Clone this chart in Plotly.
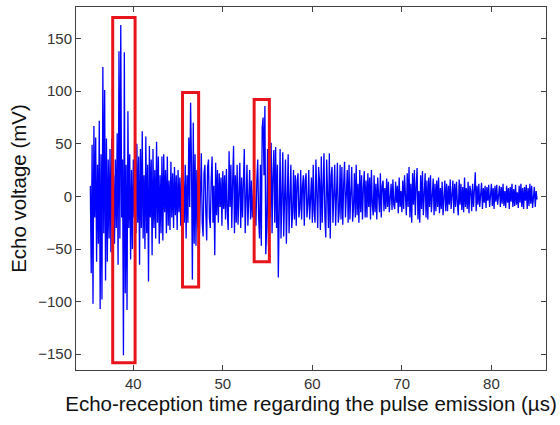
import numpy as np
import plotly.graph_objects as go

# sampling step (microseconds)
t_step = 0.1

# echo voltage (mV): (start time, values)
seg_a_start = 35.2
seg_a = [10, -73, 49, -102, 67, -20, 56, -62, 30, -45, 72, -107, 40, -98, 123, -35,
         101, -80, 55, -62, 35, -40, 45, -53, 55, -30]
seg_b_start = 37.8
seg_b = [20, -45, 35, -30, 60, -65, 138, -40, 163, -20, 35, -151, 137, -92, 30, -108,
         81, -30, 40, -60, 25, -50, 35, -20, 42]
seg_c_start = 40.3
seg_c = [-35, 50, -25, 38, -65, 45, -30, 62, -40, 20, -50, 57, -35, 30, -81, 48,
         -20, 35, -56, 45, -30, 25, -40, 52, -25, 38, -45, 20, -35, 38, -42, 40,
         -15, 25, -35, 38, -28, 15, -32, 33, -20, 22, -30, 28, -18, 20, -32, 25,
         -15, 18, -28, 22]
seg_d_start = 45.5
seg_d = [-30, 15, -25, 30, -40, 20, -25, 56, -10, 89, 30, -79, 70, -45, 40, -47,
         25, -30, 40]
seg_e_start = 47.4
seg_e = [-35, 20, 41, -25, -38, 22, 30, -15, -42, 28, 35, -20, -30, 15, 38, -25,
         10, -56, 32, -18, 25, -25, 22, -10, 18, -28, 24, -12, 20, -22, 26, -15,
         -32, 43, -10, 30, -30, 15, 48, -35, 20, -25, 30, -27, 12, 32, -30, 18,
         -20, 30, 45, -35, 15, 30, -28, 10, 25, -22, 15, -20, 12]
seg_f_start = 53.5
seg_f = [20, -10, -28, 15, 35, -20, -40, 30, -47, 66, 75, 20, 86, -55, -30, 45,
         -47, 30]
seg_g_start = 55.3
seg_g = [-20, 51, -35, 20, 44, -25, 47, -30, 30, -77, 10, 45, -40, 25, 42, -38,
         15, 35, -45, 20, 40, -35, 10, 30, -30, -15, 25, -22, 20, -28, 15, 22,
         -20, -12, 25, -22, 10, 20, -28, 15, 22, -20, -8, 25, -22, 12, 18, -25]
seg_h_start = 60.1
seg_h = [30, -15, -25, 35, -10, -30, 28, 15, -32, 38, -25, 10, 41, -20, -39, 35,
         -12, -30, 41, -40, 20, 28, -25, 15, 30, -28, 10, 32, -25, -15, 30, -22,
         28, -27, 12, 33, -20, 8, 25, -25, 30, -22, 10, 28, -24, -10, 22, -20,
         30, -18, 12, -25, 25, -15, 20, -22, 8, 24, -20, 15]
seg_i_start = 66.1
seg_i = [-20, 22, -10, 18, -22, 25, -8, -18, 20, -15, 12, -22, 18, 5, -15, 22,
         -20, 10, 15, -14, 8, -12, 17, -10, 14, -15, 5, 12, -13, 16, -8, -12,
         14, -6, 10, -16, 18, -10, 5, -15, 15, -12, 20, -8, -18, 22, -10, 28,
         -20, 12, -25, 22, -8, 25, -18, 10, 27, -22, 5, -25, 20, -12, 24, -18,
         8, 22, -20, 15, -22, 18, -10, 20, -15, 5, 17, -18, 12, -14, 15, -10,
         18, -16, 8, -12, 14, -18, 10, 15, -14, 12]
seg_j_start = 75.1
seg_j = [-14, 10, -8, 16, -12, 6, 15, -16, 12, -10, 14, -6, -18, 16, -8, 12,
         -13, 9, -15, 18, -10, 8, -12, 14, -16, 10, 5, -14, 12, -10, 8, 23,
         -14, 10, -8, 12, -10, 6, 13, -12, 8, -6, 10, -11, 9, -4, 11, -10,
         6, 12, -9, 8, -12, 10, -5, 11, -8, 4, 10, -10, 9, -7, 12, -9, 5, -11,
         10, -6, 8, -12, 9, -5, 12, -10, 7, -9, 11, -8, 4, -11, 10, -6, 12, -10,
         8, -12, 9, -4, 11, -12, 8, -9, 12, -7, 10, -11, 6, 9, -10, 5, -3]

segments = [(seg_a_start, seg_a), (seg_b_start, seg_b), (seg_c_start, seg_c),
            (seg_d_start, seg_d), (seg_e_start, seg_e), (seg_f_start, seg_f),
            (seg_g_start, seg_g), (seg_h_start, seg_h), (seg_i_start, seg_i),
            (seg_j_start, seg_j)]
time_us = []
voltage = []
for start, vals in segments:
    time_us.extend(start + t_step * np.arange(len(vals)))
    voltage.extend(vals)

# highlighted echoes (red boxes): x0, x1, y0, y1
box_x0 = [37.7, 45.5, 53.5]
box_x1 = [40.2, 47.3, 55.2]
box_y0 = [-158, -86, -62]
box_y1 = [170, 98.7, 92]

x_ticks = [40, 50, 60, 70, 80]
y_ticks = [-150, -100, -50, 0, 50, 100, 150]

fig = go.Figure()
fig.add_trace(go.Scatter(x=time_us, y=voltage, mode="lines",
                         line=dict(color="#0000FF", width=1.3), showlegend=False))

for x0, x1, y0, y1 in zip(box_x0, box_x1, box_y0, box_y1):
    fig.add_shape(type="rect", x0=x0, x1=x1, y0=y0, y1=y1, xref="x", yref="y",
                  line=dict(color="#E8141C", width=3), fillcolor="rgba(0,0,0,0)")

axis_common = dict(showgrid=False, zeroline=False, showline=True, linecolor="#404040",
                   linewidth=1, mirror="ticks", ticks="inside", ticklen=5,
                   tickcolor="#404040",
                   tickfont=dict(family="Liberation Sans, Arial", size=15, color="#333333"))

title_font = dict(family="Liberation Sans, Arial", size=20.5, color="#111111")

fig.update_xaxes(range=[33.6, 86.1], tickvals=x_ticks, **axis_common,
                 title=dict(text="Echo-reception time regarding the pulse emission (\u00b5s)",
                            font=title_font, standoff=4))
fig.update_yaxes(range=[-165, 180], tickvals=y_ticks, **axis_common,
                 title=dict(text="Echo voltage (mV)", font=title_font, standoff=6))

fig.update_layout(width=560, height=425, margin=dict(l=76, r=14, t=7, b=55),
                  paper_bgcolor="white", plot_bgcolor="white")

fig.write_html("out.html")
